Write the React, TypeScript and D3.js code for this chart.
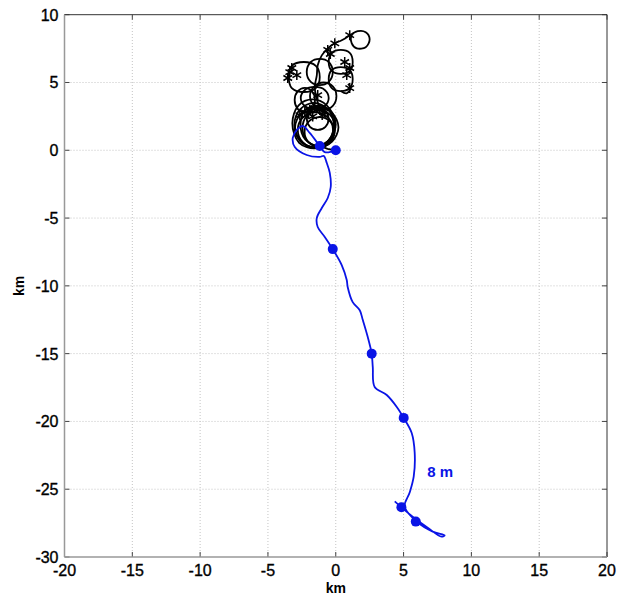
import React from "react";
import * as d3 from "d3";

// ---- data (km) ----
const xTicks = [-20, -15, -10, -5, 0, 5, 10, 15, 20];
const yTicks = [-30, -25, -20, -15, -10, -5, 0, 5, 10];

const blueX = [0, -0.81, -1.18, -1.92, -2.43, -2.87, -3.17, -3.02, -2.14, -1.18, -0.88, -0.66, -0.44, -0.37, -0.59, -1.03, -1.4, -1.33, -0.81, -0.22, 0.44, 0.81, 0.88, 1.25, 1.77, 1.99, 2.36, 2.65, 2.73, 2.87, 3.76, 4.5, 5.01, 5.6, 5.82, 5.75, 5.45, 5.08, 5.97, 7.15, 8.03, 7.8, 6.78, 5.67, 4.86, 4.35];
const blueY = [0, -0.13, 0.32, 1.28, 1.79, 1.5, 0.91, 0.24, -0.35, -0.49, -0.42, -0.94, -1.67, -2.71, -3.52, -4.26, -5.0, -5.66, -6.39, -7.29, -8.47, -9.57, -10.08, -11.2, -11.8, -12.5, -13.77, -15.0, -15.99, -17.46, -18.05, -18.93, -19.74, -20.85, -22.3, -24.06, -25.25, -26.28, -27.39, -28.13, -28.4, -28.5, -27.84, -27.03, -26.35, -25.9];

const dotX = [0, -1.18, -0.22, 2.65, 5.01, 4.84, 5.9];
const dotY = [0, 0.32, -7.29, -15.0, -19.74, -26.33, -27.39];

// black closed loops (x list, y list)
const loopA_X = [1.18, 1.62, 2.21, 2.5, 2.21, 1.55, 1.18];
const loopA_Y = [8.49, 8.78, 8.71, 8.19, 7.6, 7.52, 7.89];
const loopB_X = [-3.46, -3.24, -2.36, -1.47, -1.18, -1.47, -2.36, -3.24];
const loopB_Y = [5.41, 6.22, 6.51, 6.22, 5.41, 4.59, 4.3, 4.59];
const loopC_X = [-2.14, -1.84, -1.18, -0.52, -0.22, -0.52, -1.18, -1.84];
const loopC_Y = [5.77, 6.51, 6.74, 6.51, 5.77, 5.04, 4.8, 5.04];
const loopD_X = [-0.52, -0.29, 0.37, 1.03, 1.25, 1.03, 0.37, -0.29];
const loopD_Y = [6.51, 7.18, 7.4, 7.18, 6.51, 5.85, 5.63, 5.85];
const loopE_X = [-0.52, -0.29, 0.37, 1.03, 1.25, 1.03, 0.37, -0.29];
const loopE_Y = [5.26, 5.92, 6.14, 5.92, 5.26, 4.59, 4.37, 4.59];
const loopF_X = [-2.58, -2.28, -1.55, -0.81, -0.52, -0.81, -1.55, -2.28];
const loopF_Y = [3.86, 4.45, 4.67, 4.45, 3.86, 3.27, 3.05, 3.27];
const loopF2_X = [-3.03, -2.81, -2.28, -1.75, -1.53, -1.75, -2.28, -2.81];
const loopF2_Y = [3.7, 4.34, 4.6, 4.34, 3.7, 3.06, 2.8, 3.06];
const loopF3_X = [-1.9, -1.6, -0.9, -0.2, 0.05, -0.2, -0.9, -1.6];
const loopF3_Y = [4.0, 4.7, 5.0, 4.7, 4.0, 3.3, 3.0, 3.3];
const loopG1_X = [-3.0, -2.53, -1.4, -0.27, 0.2, -0.27, -1.4, -2.53];
const loopG1_Y = [1.7, 2.76, 3.2, 2.76, 1.7, 0.64, 0.2, 0.64];
const loopG2_X = [-2.8, -2.42, -1.5, -0.58, -0.2, -0.58, -1.5, -2.42];
const loopG2_Y = [1.5, 2.42, 2.8, 2.42, 1.5, 0.58, 0.2, 0.58];
const loopG3_X = [-2.3, -1.98, -1.2, -0.42, -0.1, -0.42, -1.2, -1.98];
const loopG3_Y = [1.35, 2.13, 2.45, 2.13, 1.35, 0.57, 0.25, 0.57];
const loopG4_X = [-3.05, -2.63, -1.6, -0.57, -0.15, -0.57, -1.6, -2.63];
const loopG4_Y = [1.85, 3.02, 3.5, 3.02, 1.85, 0.68, 0.2, 0.68];
const loopG5_X = [-2.13, -1.9, -1.33, -0.76, -0.53, -0.76, -1.33, -1.9];
const loopG5_Y = [2.3, 2.87, 3.1, 2.87, 2.3, 1.73, 1.5, 1.73];
const loopG6_X = [-2.6, -2.25, -1.35, -0.45, 0.0, -0.45, -1.35, -2.25];
const loopG6_Y = [1.9, 2.95, 3.3, 2.95, 1.9, 0.8, 0.35, 0.8];
const loopG7_X = [-2.45, -2.1, -1.25, -0.4, -0.05, -0.4, -1.25, -2.1];
const loopG7_Y = [1.6, 2.6, 2.95, 2.6, 1.6, 0.7, 0.3, 0.7];
const loopG8_X = [-3.2, -2.75, -1.7, -0.65, -0.05, -0.5, -1.5, -2.7];
const loopG8_Y = [2.0, 3.3, 3.75, 3.3, 2.1, 0.75, 0.15, 0.55];

// black open paths
const stemX = [1.03, 0.44, -0.07, -0.59, -1.03, -1.33, -1.4, -1.55, -1.4, -1.2];
const stemY = [8.49, 8.11, 7.89, 7.52, 7.0, 6.27, 5.5, 4.67, 3.8, 3.1];
const tailX = [0.37, 0.8, 1.1, 0.9];
const tailY = [4.37, 4.2, 4.6, 4.9];
const linkX = [-1.18, -0.6, 0];
const linkY = [0.32, 0.1, 0];

const starX = [1.03, -0.07, -0.59, -3.39, -3.54, -3.24, -2.87, 0.66, 0.81, 1.03, 1.03, -1.33, -2.28, -1.92, -1.55, -1.18, -0.81, -2.65, -0.4, -2.0, -1.7, -1.0];
const starY = [8.49, 7.89, 7.4, 5.77, 5.33, 6.07, 5.55, 6.51, 5.55, 6.07, 4.59, 4.07, 2.82, 2.97, 3.12, 2.97, 2.82, 2.6, 7.1, 2.7, 2.5, 2.6];

const blueColor = "#0a14e6";

export default function App() {
  const W = 624, H = 598;
  const x = d3.scaleLinear().domain([-20, 20]).range([64.5, 607]);
  const y = d3.scaleLinear().domain([-30, 10]).range([557, 14.7]);
  const [x0, x1] = x.range();
  const [y0, y1] = y.range();

  const open = d3.line<[number, number]>().x(d => x(d[0])).y(d => y(d[1])).curve(d3.curveCatmullRom);
  const straight = d3.line<[number, number]>().x(d => x(d[0])).y(d => y(d[1]));
  const closed = d3.line<[number, number]>().x(d => x(d[0])).y(d => y(d[1])).curve(d3.curveCatmullRomClosed);
  const zip = (a: number[], b: number[]) => a.map((v, i) => [v, b[i]] as [number, number]);

  const loops = [
    [loopA_X, loopA_Y], [loopB_X, loopB_Y], [loopC_X, loopC_Y], [loopD_X, loopD_Y],
    [loopE_X, loopE_Y], [loopF_X, loopF_Y], [loopF2_X, loopF2_Y], [loopF3_X, loopF3_Y],
    [loopG1_X, loopG1_Y], [loopG2_X, loopG2_Y], [loopG3_X, loopG3_Y], [loopG4_X, loopG4_Y],
    [loopG5_X, loopG5_Y], [loopG6_X, loopG6_Y], [loopG7_X, loopG7_Y], [loopG8_X, loopG8_Y],
  ];
  const star = d3.symbol(d3.symbolAsterisk, 70)();
  const font = "'Liberation Sans', Arial, sans-serif";

  return (
    <svg width={W} height={H} style={{ position: "absolute", left: 0, top: 0, background: "#fff" }}>
      <rect x={0} y={0} width={W} height={H} fill="#fff" />
      {/* grid */}
      {xTicks.slice(1, -1).map(t => (
        <line key={"gx" + t} x1={x(t)} x2={x(t)} y1={y0} y2={y1} stroke="#c4c4c4" strokeWidth={1} strokeDasharray="1,2" />
      ))}
      {yTicks.slice(1, -1).map(t => (
        <line key={"gy" + t} x1={x0} x2={x1} y1={y(t)} y2={y(t)} stroke="#c4c4c4" strokeWidth={1} strokeDasharray="1,2" />
      ))}
      {/* ticks */}
      {xTicks.map(t => (
        <g key={"tx" + t}>
          <line x1={x(t)} x2={x(t)} y1={y0} y2={y0 - 5} stroke="#444" />
          <line x1={x(t)} x2={x(t)} y1={y1} y2={y1 + 5} stroke="#444" />
        </g>
      ))}
      {yTicks.map(t => (
        <g key={"ty" + t}>
          <line x1={x0} x2={x0 + 5} y1={y(t)} y2={y(t)} stroke="#444" />
          <line x1={x1} x2={x1 - 5} y1={y(t)} y2={y(t)} stroke="#444" />
        </g>
      ))}
      {/* box */}
      <line x1={x0} x2={x1} y1={y1} y2={y1} stroke="#333" strokeWidth={1} />
      <line x1={x1} x2={x1} y1={y0} y2={y1} stroke="#333" strokeWidth={1} />
      <line x1={x0} x2={x1} y1={y0} y2={y0} stroke="#999" strokeWidth={1.5} />
      <line x1={x0} x2={x0} y1={y0} y2={y1} stroke="#999" strokeWidth={1.5} />

      {/* black tracks */}
      <g fill="none" stroke="#000" strokeWidth={1.8}>
        {loops.map((l, i) => <path key={"l" + i} d={closed(zip(l[0], l[1])) || ""} />)}
        <path d={open(zip(stemX, stemY)) || ""} />
        <path d={open(zip(tailX, tailY)) || ""} />
        <path d={straight(zip(linkX, linkY)) || ""} />
      </g>
      <g fill="none" stroke="#000" strokeWidth={1.5}>
        {starX.map((v, i) => <path key={"s" + i} d={star} transform={`translate(${x(v)},${y(starY[i])})`} />)}
      </g>

      {/* blue track */}
      <path d={open(zip(blueX, blueY)) || ""} fill="none" stroke={blueColor} strokeWidth={1.8} />
      {dotX.map((v, i) => <circle key={"d" + i} cx={x(v)} cy={y(dotY[i])} r={5} fill={blueColor} />)}
      <text x={x(7.7)} y={y(-23.8)} fill={blueColor} fontFamily={font} fontWeight="bold" fontSize={15} textAnchor="middle" dominantBaseline="middle">8 m</text>

      {/* tick labels */}
      {xTicks.map(t => (
        <text key={"lx" + t} x={x(t)} y={y0 + 19} textAnchor="middle" fontFamily={font} fontSize={16} fill="#000" stroke="#000" strokeWidth={0.35}>{t}</text>
      ))}
      {yTicks.map(t => (
        <text key={"ly" + t} x={x0 - 6} y={y(t) + 6} textAnchor="end" fontFamily={font} fontSize={16} fill="#000" stroke="#000" strokeWidth={0.35}>{t}</text>
      ))}
      <text x={(x0 + x1) / 2} y={593} textAnchor="middle" fontFamily={font} fontSize={14} fontWeight="bold">km</text>
      <text transform={`translate(24,${(y0 + y1) / 2}) rotate(-90)`} textAnchor="middle" fontFamily={font} fontSize={14} fontWeight="bold">km</text>
    </svg>
  );
}
